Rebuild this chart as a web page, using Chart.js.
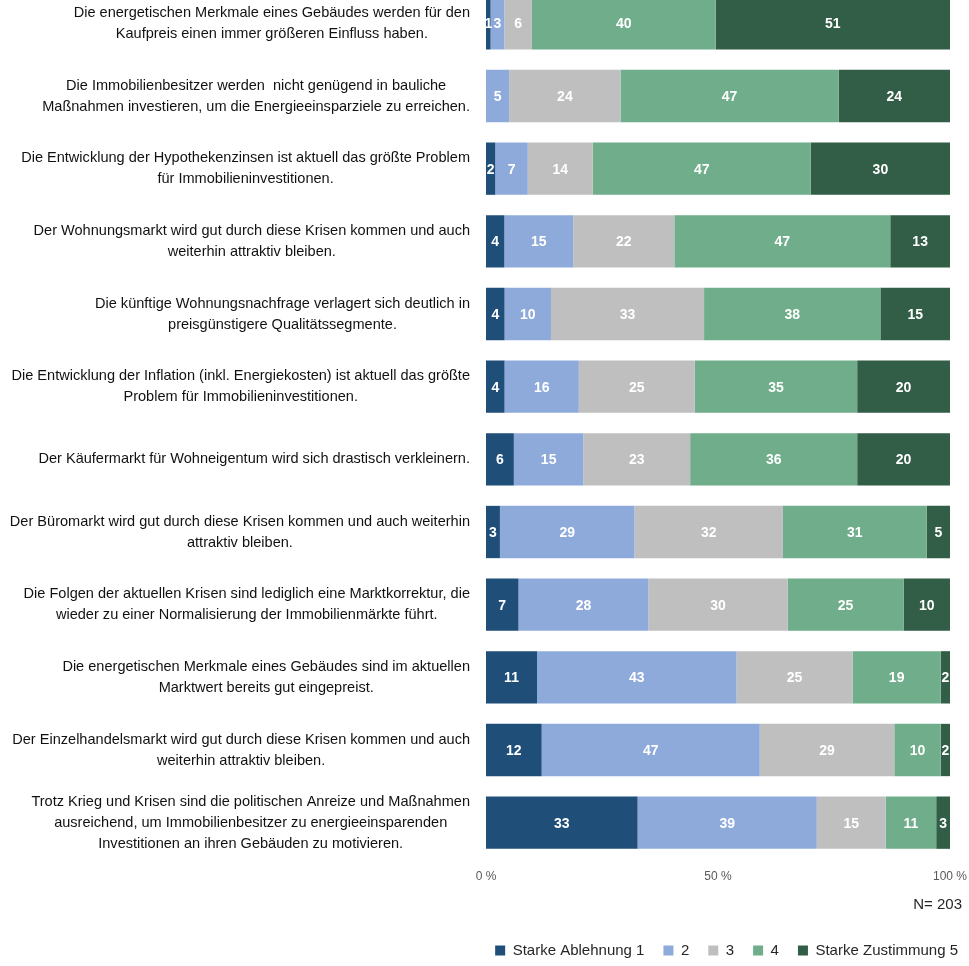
<!DOCTYPE html>
<html>
<head>
<meta charset="utf-8">
<script src="https://cdn.jsdelivr.net/npm/chart.js@4.4.0/dist/chart.umd.min.js"></script>
<style>
  html, body { margin: 0; padding: 0; background: #ffffff; overflow: hidden; }
  #wrap { position: absolute; left: 0; top: -13px; width: 977px; height: 981px; }
</style>
</head>
<body>
<div id="wrap"><canvas id="c"></canvas></div>
<script>
// ---- data ----
const categories = [
  ["Die energetischen Merkmale eines Gebäudes werden für den", "Kaufpreis einen immer größeren Einfluss haben."],
  ["Die Immobilienbesitzer werden  nicht genügend in bauliche", "Maßnahmen investieren, um die Energieeinsparziele zu erreichen."],
  ["Die Entwicklung der Hypothekenzinsen ist aktuell das größte Problem", "für Immobilieninvestitionen."],
  ["Der Wohnungsmarkt wird gut durch diese Krisen kommen und auch", "weiterhin attraktiv bleiben."],
  ["Die künftige Wohnungsnachfrage verlagert sich deutlich in", "preisgünstigere Qualitätssegmente."],
  ["Die Entwicklung der Inflation (inkl. Energiekosten) ist aktuell das größte", "Problem für Immobilieninvestitionen."],
  ["Der Käufermarkt für Wohneigentum wird sich drastisch verkleinern."],
  ["Der Büromarkt wird gut durch diese Krisen kommen und auch weiterhin", "attraktiv bleiben."],
  ["Die Folgen der aktuellen Krisen sind lediglich eine Marktkorrektur, die", "wieder zu einer Normalisierung der Immobilienmärkte führt."],
  ["Die energetischen Merkmale eines Gebäudes sind im aktuellen", "Marktwert bereits gut eingepreist."],
  ["Der Einzelhandelsmarkt wird gut durch diese Krisen kommen und auch", "weiterhin attraktiv bleiben."],
  ["Trotz Krieg und Krisen sind die politischen Anreize und Maßnahmen", "ausreichend, um Immobilienbesitzer zu energieeinsparenden", "Investitionen an ihren Gebäuden zu motivieren."]
];
const seriesNames = ["Starke Ablehnung 1", "2", "3", "4", "Starke Zustimmung 5"];
const ablehnung1  = [1, 0, 2, 4, 4, 4, 6, 3, 7, 11, 12, 33];
const wert2       = [3, 5, 7, 15, 10, 16, 15, 29, 28, 43, 47, 39];
const wert3       = [6, 24, 14, 22, 33, 25, 23, 32, 30, 25, 29, 15];
const wert4       = [40, 47, 47, 47, 38, 35, 36, 31, 25, 19, 10, 11];
const zustimmung5 = [51, 24, 30, 13, 15, 20, 20, 5, 10, 2, 2, 3];
const xTickLabels = ["0 %", "50 %", "100 %"];
const sampleNote  = "N= 203";

// ---- styles ----
const seriesColors = ["#1f4e79", "#8eaadb", "#bfbfbf", "#6fad8b", "#325d46"];
const FONT = '"Liberation Sans", Arial, sans-serif';

// ---- build table (100% stacked) ----
const seriesValues = [ablehnung1, wert2, wert3, wert4, zustimmung5];
const rowSums = categories.map((_, i) => seriesValues.reduce((s, arr) => s + arr[i], 0));
const datasets = seriesValues.map((vals, k) => ({
  label: seriesNames[k],
  data: vals.map((v, i) => v / rowSums[i] * 100),
  rawValues: vals,
  backgroundColor: seriesColors[k],
  borderWidth: 0,
  barPercentage: 0.72,
  categoryPercentage: 1.0
}));

const catLabelPlugin = {
  id: 'catLabels',
  afterDraw(chart) {
    const ctx = chart.ctx, ys = chart.scales.y;
    ctx.save();
    ctx.font = '15px ' + FONT;
    ctx.fillStyle = '#111111';
    ctx.textBaseline = 'middle';
    ctx.textAlign = 'center';
    const sx = 0.97, lh = 21, right = chart.chartArea.left - 16;
    chart.data.labels.forEach((lines, i) => {
      const y = ys.getPixelForValue(i);
      const maxW = Math.max(...lines.map(l => ctx.measureText(l).width)) * sx;
      const cx = right - maxW / 2;
      lines.forEach((l, k) => {
        const ly = y + (k - (lines.length - 1) / 2) * lh;
        ctx.save(); ctx.translate(cx, ly); ctx.scale(sx, 1); ctx.fillText(l, 0, 0); ctx.restore();
      });
    });
    // sample size note
    ctx.font = '15px ' + FONT;
    ctx.fillStyle = '#262626';
    ctx.textAlign = 'right';
    ctx.fillText(sampleNote, 962, chart.chartArea.bottom + 46);
    ctx.restore();
  }
};

const valueLabelPlugin = {
  id: 'valueLabels',
  afterDatasetsDraw(chart) {
    const ctx = chart.ctx;
    ctx.save();
    ctx.font = 'bold 14px ' + FONT;
    ctx.fillStyle = '#ffffff';
    ctx.textAlign = 'center';
    ctx.textBaseline = 'middle';
    chart.data.datasets.forEach((ds, di) => {
      const meta = chart.getDatasetMeta(di);
      meta.data.forEach((bar, j) => {
        const v = ds.rawValues[j];
        if (!v) return;
        const x = (bar.x + bar.base) / 2;
        ctx.fillText(String(v), x, bar.y + 1);
      });
    });
    ctx.restore();
  }
};

new Chart(document.getElementById('c'), {
  type: 'bar',
  data: { labels: categories, datasets: datasets },
  options: {
    indexAxis: 'y',
    responsive: true,
    maintainAspectRatio: false,
    animation: false,
    layout: { padding: { left: 0, right: 0, top: 0, bottom: 0 } },
    scales: {
      x: {
        stacked: true, min: 0, max: 100,
        grid: { display: false, drawTicks: false },
        border: { display: false },
        ticks: {
          stepSize: 50, padding: 10, maxRotation: 0,
          color: '#595959', font: { family: FONT, size: 12 },
          callback: (v, idx) => xTickLabels[idx]
        },
        afterFit(s) { s.height = 65; }
      },
      y: {
        stacked: true,
        grid: { display: false },
        border: { display: false },
        ticks: { display: false },
        afterFit(s) { s.width = 486; }
      }
    },
    plugins: {
      legend: {
        position: 'bottom', align: 'end',
        labels: {
          boxWidth: 10, boxHeight: 10, padding: 19,
          color: '#262626', font: { family: FONT, size: 15 }
        }
      },
      tooltip: { enabled: false }
    }
  },
  plugins: [catLabelPlugin, valueLabelPlugin]
});
</script>
</body>
</html>
